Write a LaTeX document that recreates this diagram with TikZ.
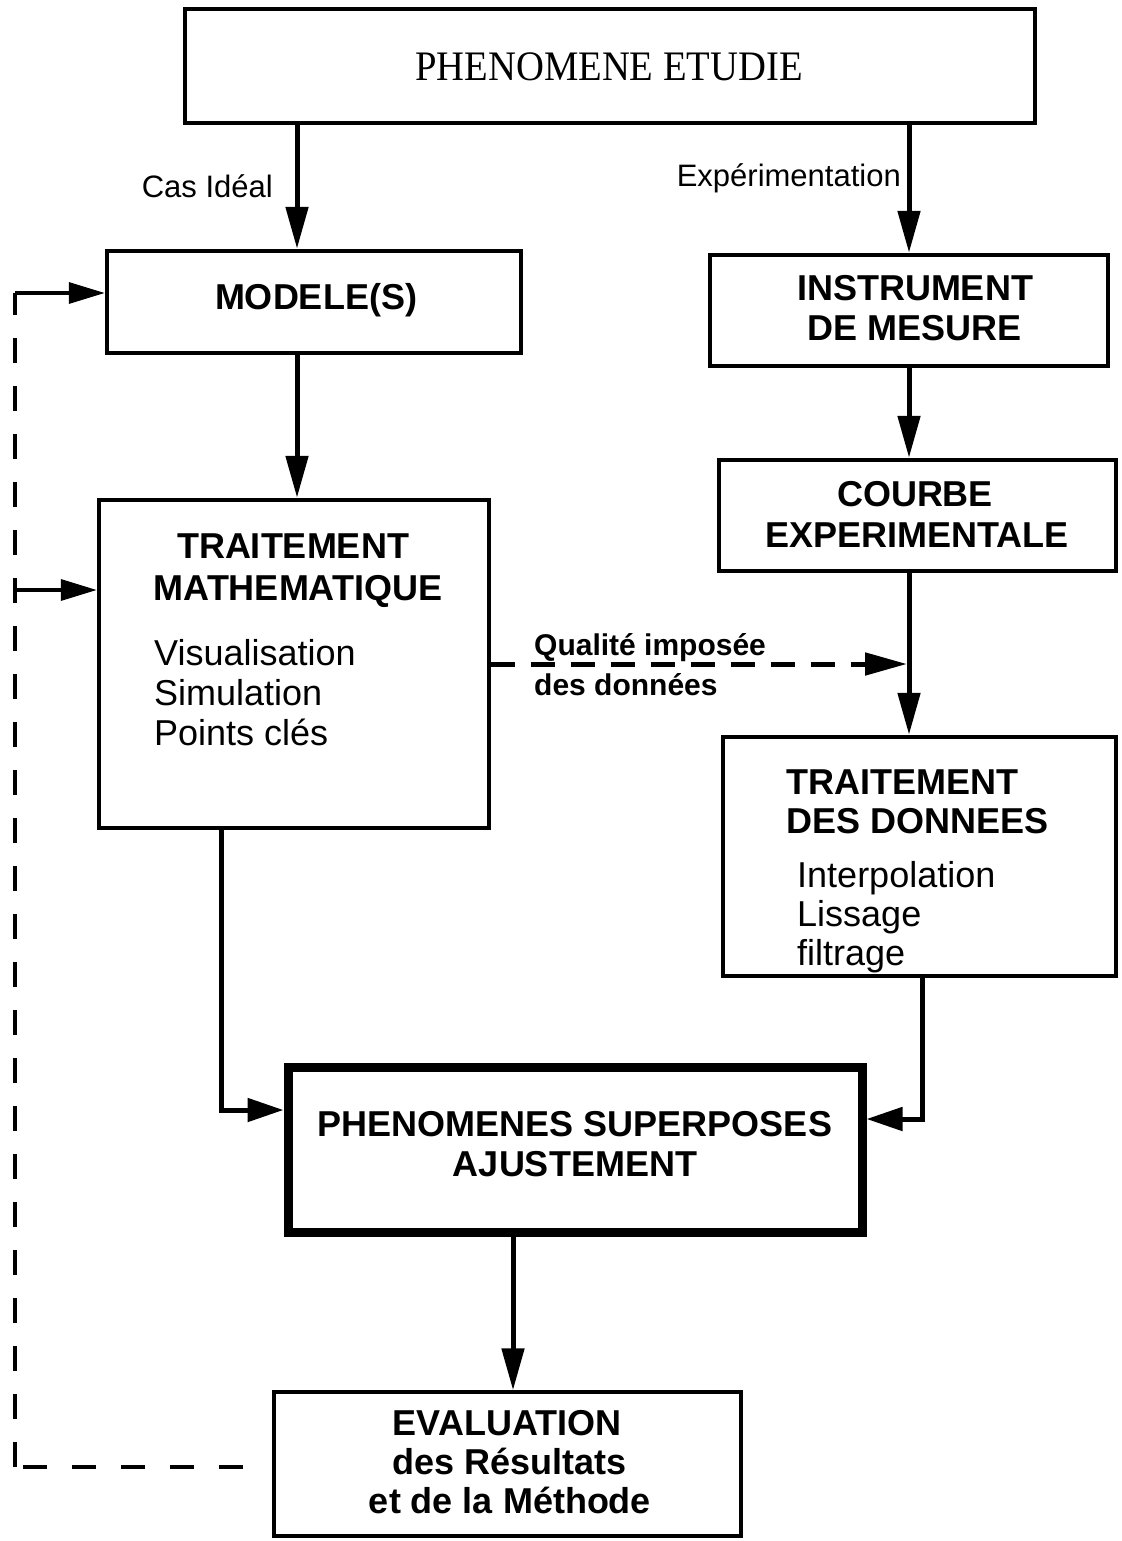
\documentclass[tikz,border=0pt]{standalone}
\usepackage{fontspec}
\setmainfont{Liberation Sans}
\newfontfamily\serifttl[FakeStretch=0.92]{Liberation Serif}
\usetikzlibrary{arrows.meta}
\begin{document}
\begin{tikzpicture}[x=1pt,y=-1pt,
  box/.style={draw,line width=4.5pt,inner sep=0pt},
  ttl/.style={font=\fontsize{36}{40}\selectfont\bfseries,anchor=base,inner sep=0pt},
  ttlw/.style={font=\fontsize{36}{40}\selectfont\bfseries,anchor=base west,inner sep=0pt},
  itm/.style={font=\fontsize{36}{40}\selectfont,anchor=base west,inner sep=0pt},
  lbl/.style={font=\fontsize{31}{34}\selectfont,anchor=base east,inner sep=0pt},
  qlbl/.style={font=\fontsize{30}{34}\selectfont\bfseries,anchor=base west,inner sep=0pt},
  arr/.style={line width=5pt,-{Triangle[length=42pt,width=22pt]}},
  arrb/.style={line width=5pt,-{Triangle[length=36pt,width=23pt]}},
  qarr/.style={line width=5pt,dash pattern=on 24pt off 16pt,-{Triangle[length=42pt,width=22pt]}},
  fb/.style={line width=3.5pt},
  fbarr/.style={line width=3.5pt,-{Triangle[length=36pt,width=21pt]}}]
\useasboundingbox (0,0) rectangle (1121,1541);

% boxes
\node[box,minimum width=850pt,minimum height=114pt] (top) at (610,66) {};
\node[box,minimum width=414pt,minimum height=102pt] (modele) at (314,302) {};
\node[box,minimum width=398pt,minimum height=111pt] (instr) at (909,310.5) {};
\node[box,minimum width=397pt,minimum height=111pt] (courbe) at (917.5,515.5) {};
\node[box,minimum width=390pt,minimum height=328pt] (tm) at (294,664) {};
\node[box,minimum width=393pt,minimum height=239pt] (tdd) at (919.5,856.5) {};
\node[box,line width=9pt,minimum width=574pt,minimum height=165pt] (sup) at (575,1149.5) {};
\node[box,line width=3.5pt,minimum width=467pt,minimum height=144pt] (eval) at (507.5,1464) {};

% texts
\node[font=\serifttl\fontsize{42}{46}\selectfont,anchor=base,inner sep=0pt] (topt) at (609,81) {PHENOMENE ETUDIE};
\node[ttl] (modt) at (316,309) {MODELE(S)};
\node[ttl] (ins1) at (915,300) {INSTRUMENT};
\node[ttl] (ins2) at (915,340) {DE MESURE};
\node[ttl] (cou1) at (915,506) {COURBE};
\node[ttl] (cou2) at (917,547) {EXPERIMENTALE};
\node[ttl] (tm1) at (293,558) {TRAITEMENT};
\node[ttl] (tm2) at (298,600) {MATHEMATIQUE};
\node[itm] (tmi1) at (154,665) {Visualisation};
\node[itm] (tmi2) at (154,705) {Simulation};
\node[itm] (tmi3) at (154,745) {Points clés};
\node[ttlw] (td1) at (786,794) {TRAITEMENT};
\node[ttlw] (td2) at (786,833) {DES DONNEES};
\node[itm] (tdi1) at (797,887) {Interpolation};
\node[itm] (tdi2) at (797,926) {Lissage};
\node[itm] (tdi3) at (797,965) {filtrage};
\node[ttl] (sup1) at (575,1136) {PHENOMENES SUPERPOSES};
\node[ttl] (sup2) at (575,1176) {AJUSTEMENT};
\node[ttl] (ev1) at (507,1435) {EVALUATION};
\node[ttl] (ev2) at (510,1474) {des Résultats};
\node[ttl] (ev3) at (510,1513) {et de la Méthode};
\node[lbl] (lcas) at (273,197) {Cas Idéal};
\node[lbl] (lexp) at (901,187) {Expérimentation};
\node[qlbl] (lq1) at (534,655) {Qualité imposée};
\node[qlbl] (lq2) at (534,695) {des données};

% connectors
\coordinate (xL) at (297,0);
\coordinate (xR) at (909,0);
\draw[arr] (top.south -| xL) -- (modele.north -| xL);
\draw[arr] (modele.south -| xL) -- (tm.north -| xL);
\draw[arr] (top.south -| xR) -- (instr.north -| xR);
\draw[arr] (instr.south -| xR) -- (courbe.north -| xR);
\draw[arr] (courbe.south -| xR) -- (tdd.north -| xR);
\coordinate (qEnd) at (907,664);
\draw[qarr] (tm.east) -- (qEnd);
\coordinate (yL) at (0,1110);
\coordinate (xTM) at (221,0);
\draw[arrb] (tm.south -| xTM) |- (sup.west |- yL);
\coordinate (yR) at (0,1119);
\coordinate (xTD) at (922,0);
\draw[arrb] (tdd.south -| xTD) |- (sup.east |- yR);
\coordinate (xS) at (513,0);
\draw[arr] (sup.south -| xS) -- (eval.north -| xS);

% feedback
\coordinate (fbE) at (243,1467);
\coordinate (fbC) at (15,1467);
\coordinate (fbT) at (15,293);
\coordinate (fbM) at (15,590);
\draw[fb,dash pattern=on 24pt off 25pt] (fbE) -- (fbC);
\draw[fb,dash pattern=on 25pt off 23pt] (fbC) -- (fbT);
\draw[fbarr] (fbT) -- (modele.west |- fbT);
\draw[fbarr] (fbM) -- (tm.west |- fbM);
\end{tikzpicture}
\end{document}
